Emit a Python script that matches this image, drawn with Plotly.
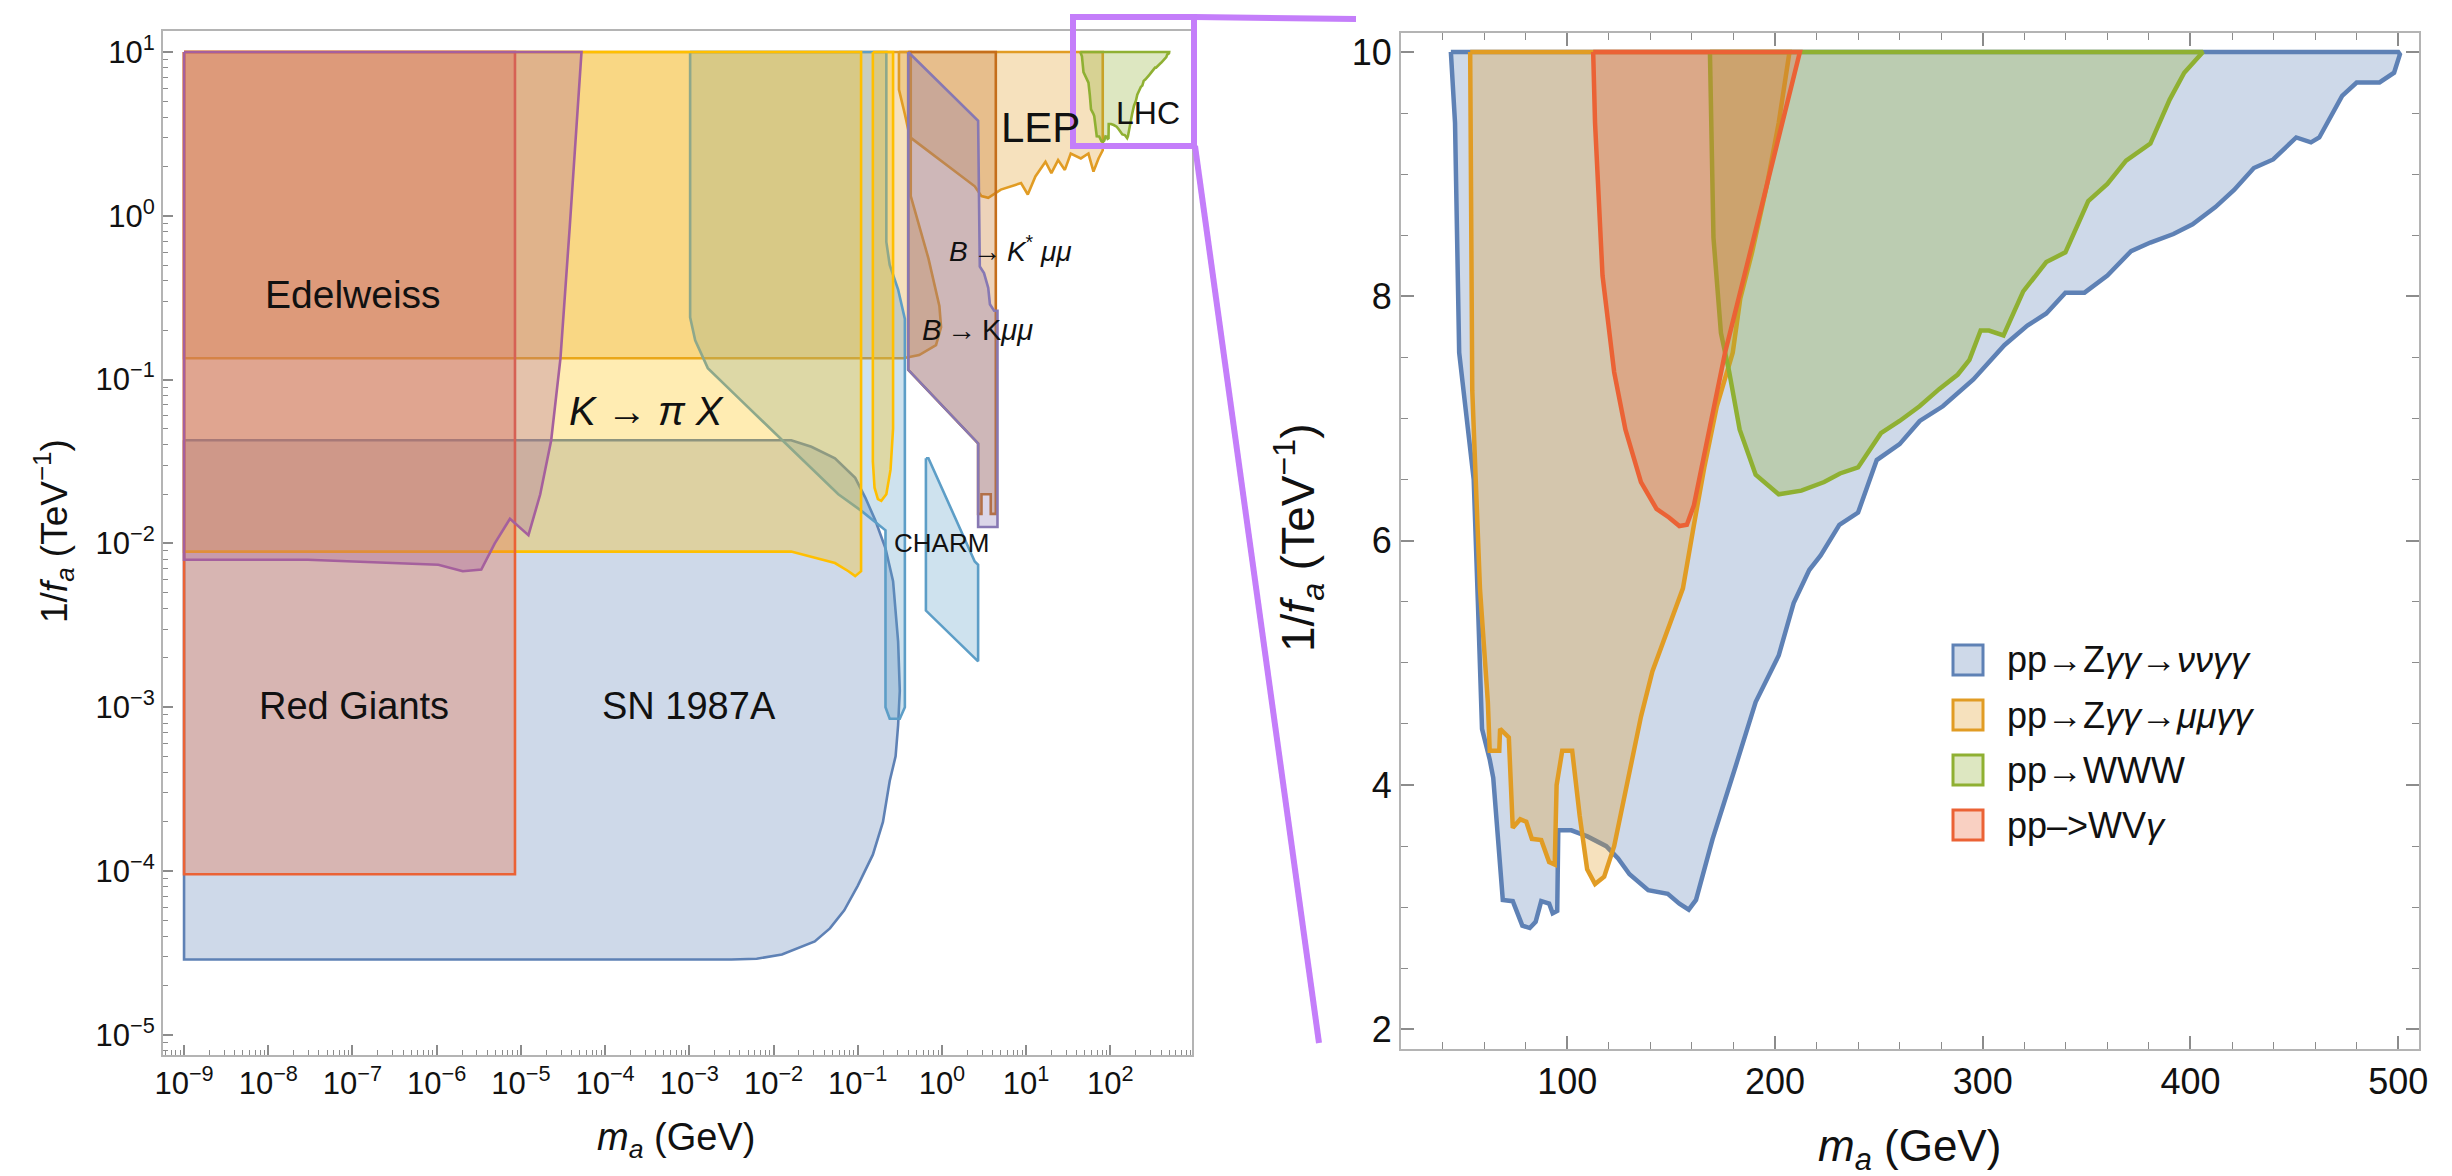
import plotly.graph_objects as go

# ================= LEFT PANEL DATA (log10 m_a [GeV], log10 1/f_a [TeV^-1]) =================
sn_logm = [-9.0, -1.79, -1.55, -1.27, -1.03, -0.91, -0.79, -0.67, -0.58, -0.52, -0.50, -0.52, -0.55, -0.62, -0.70,
           -0.82, -1.00, -1.16, -1.33, -1.51, -1.90, -2.20, -2.50, -9.0]
sn_logf = [-1.37, -1.37, -1.41, -1.48, -1.60, -1.72, -1.86, -2.03, -2.23, -2.60, -2.90, -3.11, -3.30, -3.45, -3.70,
           -3.90, -4.09, -4.24, -4.35, -4.43, -4.51, -4.535, -4.54, -4.54]

kpx_logm = [-9.0, -0.96, -0.96, -1.03, -1.11, -1.27, -1.79, -9.0]
kpx_logf = [1.0, 1.0, -2.17, -2.20, -2.17, -2.12, -2.05, -2.05]
kpx_spike_logm = [-0.82, -0.82, -0.80, -0.76, -0.72, -0.66, -0.61, -0.58, -0.58]
kpx_spike_logf = [1.0, -1.50, -1.66, -1.73, -1.74, -1.70, -1.55, -1.30, 1.0]

band_logm = [-9.0, -0.37, -0.37, -0.16, -0.03, -0.01, -0.07, -0.27, -0.46, -9.0]
band_logf = [1.0, 1.0, 0.12, -0.26, -0.55, -0.68, -0.79, -0.85, -0.87, -0.87]

beam_logm = [-2.99, -2.99, -2.93, -2.78, -2.42, -1.83, -1.23, -0.96, -0.67, -0.67, -0.62, -0.50, -0.44, -0.44, -0.52, -0.62, -0.66, -0.66]
beam_logf = [1.0, -0.62, -0.76, -0.93, -1.11, -1.40, -1.70, -1.80, -1.92, -3.00, -3.07, -3.07, -3.00, -0.63, -0.45, -0.30, -0.16, 1.0]

charm_logm = [-0.19, -0.16, 0.39, 0.43, 0.43, -0.19]
charm_logf = [-1.48, -1.48, -2.11, -2.13, -2.72, -2.41]

rg_logm = [-9.0, -5.07, -5.07, -9.0]
rg_logf = [1.0, 1.0, -4.02, -4.02]

edel_logm = [-9.0, -4.28, -4.42, -4.53, -4.64, -4.77, -4.91, -5.13, -5.31, -5.47, -5.69, -5.98, -7.53, -9.0]
edel_logf = [1.0, 1.0, -0.07, -0.87, -1.37, -1.70, -1.95, -1.85, -2.00, -2.16, -2.17, -2.13, -2.10, -2.10]

lep_logm = [-0.51, -0.51, -0.44, -0.38, 0.39, 0.47, 0.55, 0.70, 0.94, 1.02, 1.11, 1.23, 1.30, 1.38, 1.46, 1.53, 1.65, 1.74, 1.80, 1.86, 1.91, 1.91]
lep_logf = [1.0, 0.77, 0.62, 0.48, 0.18, 0.12, 0.11, 0.16, 0.20, 0.13, 0.24, 0.33, 0.26, 0.34, 0.28, 0.38, 0.35, 0.38, 0.27, 0.35, 0.40, 1.0]

bkmm_logm = [-0.40, 0.64, 0.64, 0.58, 0.58, 0.47, 0.47, 0.43, 0.43, -0.40]
bkmm_logf = [1.0, 1.0, -1.82, -1.82, -1.70, -1.70, -1.82, -1.82, -1.39, -0.94]

bkst_logm = [-0.40, 0.43, 0.45, 0.50, 0.55, 0.57, 0.62, 0.66, 0.66, 0.43, 0.43, -0.40]
bkst_logf = [1.0, 0.58, -0.31, -0.35, -0.44, -0.54, -0.58, -0.58, -1.90, -1.90, -1.39, -0.94]

x_tick_exps = [-9, -8, -7, -6, -5, -4, -3, -2, -1, 0, 1, 2]
y_tick_exps = [-5, -4, -3, -2, -1, 0, 1]

# ================= RIGHT PANEL DATA (m_a [GeV], 1/f_a [TeV^-1]) =================
zvv_m = [44, 46, 48, 52, 55, 57, 59, 62.7, 64.4, 69, 73.8, 78.4, 82, 84.8, 87.5, 91.3, 93, 95.2, 95.7, 98.6, 102,
         109.7, 118.8, 124.5, 130, 139, 148.4, 154, 158.5, 162, 170, 181, 190.7, 201.8, 209, 216.5, 222, 231, 240,
         249, 260, 269.7, 280.8, 295.5, 310.4, 321.5, 330.6, 339.8, 349, 360, 371.4, 380.7, 391.8, 401, 412, 421,
         430.5, 439.8, 450.9, 458, 462, 473, 480, 491, 498, 500.8, 500]
zvv_f = [10, 9.42, 7.54, 6.91, 6.5, 5.5, 4.46, 4.21, 4.06, 3.06, 3.05, 2.85, 2.83, 2.88, 3.05, 3.03, 2.95, 2.97, 3.63, 3.63, 3.63,
         3.58, 3.50, 3.40, 3.27, 3.14, 3.11, 3.03, 2.98, 3.06, 3.56, 4.15, 4.68, 5.06, 5.49, 5.76, 5.88, 6.13, 6.23,
         6.66, 6.79, 6.98, 7.10, 7.32, 7.60, 7.76, 7.86, 8.03, 8.03, 8.17, 8.37, 8.44, 8.51, 8.59, 8.73, 8.87,
         9.05, 9.12, 9.30, 9.26, 9.30, 9.64, 9.75, 9.75, 9.83, 9.98, 10]

zmm_m = [53.3, 54.3, 58, 61.8, 62.7, 67.3, 67.7, 71.9, 73.8, 77.4, 80.3, 83, 87.5, 91.3, 94, 94.9, 97.6, 102.4, 106,
         109.6, 113.4, 117.8, 122.6, 128, 135.5, 141, 150, 155.7, 161, 166, 172, 179.7, 183.3, 189, 196, 201.8, 207]
zmm_f = [10, 7.23, 5.61, 4.68, 4.28, 4.28, 4.46, 4.39, 3.65, 3.72, 3.70, 3.56, 3.55, 3.37, 3.35, 4.0, 4.28, 4.28, 3.75,
         3.31, 3.19, 3.25, 3.50, 3.94, 4.56, 4.93, 5.34, 5.61, 6.13, 6.6, 7.1, 7.54, 7.98, 8.36, 8.9, 9.42, 10]

www_m = [168.7, 170.4, 174, 178, 183, 190.7, 201.8, 212.7, 223.7, 231.3, 240, 251, 260, 269.6, 279, 288, 293.6, 299,
         303, 310, 319.5, 330.6, 339.8, 350.8, 360, 369, 380.7, 390, 397, 406]
www_f = [10, 8.48, 7.70, 7.38, 6.91, 6.54, 6.38, 6.41, 6.48, 6.55, 6.60, 6.88, 6.98, 7.10, 7.24, 7.36, 7.48, 7.72,
         7.72, 7.68, 8.04, 8.28, 8.36, 8.78, 8.92, 9.11, 9.25, 9.61, 9.83, 10]

wvg_m = [112.5, 113.4, 117, 122.6, 128, 135.5, 143, 149, 154, 157.6, 161, 166.8, 176, 190.7, 202, 212]
wvg_f = [10, 9.42, 8.17, 7.38, 6.91, 6.48, 6.26, 6.19, 6.12, 6.13, 6.29, 6.76, 7.54, 8.54, 9.33, 10]

legend_labels = ["pp→Z<i>γγ</i>→<i>νν</i><i>γγ</i>", "pp→Z<i>γγ</i>→<i>μμγγ</i>", "pp→WWW", "pp–&gt;WV<i>γ</i>"]

# ================= STYLE =================
BLUE, ORANGE, GREEN, RED = '#5E81B5', '#E19C24', '#8FB032', '#EB6235'
PURPLE, DORANGE, LBLUE, YELLOW, MAGENTA = '#8778B3', '#C56E1A', '#5D9EC7', '#FFBF00', '#A5609D'
ZOOMC = '#C47EFA'
W, H = 2452, 1176
FONT = 'Liberation Sans, Arial, Helvetica, sans-serif'


def rgba(hx, a):
    hx = hx.lstrip('#')
    return 'rgba(%d,%d,%d,%.3f)' % (int(hx[0:2], 16), int(hx[2:4], 16), int(hx[4:6], 16), a)


def px(x):
    return x / W


def py(y):
    return 1 - y / H


def closed(a):
    return list(a) + [a[0]]


def region(xs, ys, color, xa, ya, width, alpha=0.3, logdata=True):
    if logdata:
        xs = [10 ** v for v in xs]
        ys = [10 ** v for v in ys]
    return go.Scatter(x=closed(xs), y=closed(ys), mode='lines', fill='toself',
                      fillcolor=rgba(color, alpha), line=dict(color=color, width=width),
                      xaxis=xa, yaxis=ya, showlegend=False, hoverinfo='skip')


fig = go.Figure()

LW = 2.6
left_regions = [
    (sn_logm, sn_logf, BLUE),
    (band_logm, band_logf, ORANGE),
    (beam_logm, beam_logf, LBLUE),
    (kpx_logm, kpx_logf, YELLOW),
    (kpx_spike_logm, kpx_spike_logf, YELLOW),
    (charm_logm, charm_logf, LBLUE),
    (rg_logm, rg_logf, RED),
    (edel_logm, edel_logf, MAGENTA),
    (lep_logm, lep_logf, ORANGE),
    (bkmm_logm, bkmm_logf, DORANGE),
    (bkst_logm, bkst_logf, PURPLE),
]
for xs, ys, c in left_regions:
    fig.add_trace(region(xs, ys, c, 'x', 'y', LW))
# LHC region on the left = envelope of the collider searches
fig.add_trace(region(zvv_m, zvv_f, GREEN, 'x', 'y', LW, logdata=False))

RW = 4.5
for xs, ys, c in [(zvv_m, zvv_f, BLUE), (zmm_m, zmm_f, ORANGE), (www_m, www_f, GREEN), (wvg_m, wvg_f, RED)]:
    fig.add_trace(region(xs, ys, c, 'x2', 'y2', RW, logdata=False))


def sup(e):
    return '10<sup>%s%d</sup>' % ('−' if e < 0 else '', abs(e))


x_minor = [k * 10.0 ** e for e in range(-10, 3) for k in range(2, 10)]
y_minor = [k * 10.0 ** e for e in range(-6, 2) for k in range(2, 10)]

TICKC = '#8c8c8c'
FRAMEC = '#b4b4b4'
common = dict(showgrid=False, zeroline=False, showline=True, linecolor=FRAMEC, linewidth=2,
              ticks='inside', tickcolor=TICKC, tickwidth=1.5, automargin=False)

fig.update_layout(
    width=W, height=H, margin=dict(l=0, r=0, t=0, b=0),
    paper_bgcolor='white', plot_bgcolor='white', showlegend=False,
    font=dict(family=FONT, color='#111111'),
    xaxis=dict(type='log', domain=[px(155), px(1184)], range=[-9.25, 2.97], anchor='y',
               tickvals=[10.0 ** e for e in x_tick_exps], ticktext=[sup(e) for e in x_tick_exps],
               ticklen=10, mirror=True, tickfont=dict(size=31),
               minor=dict(tickvals=x_minor, ticks='inside', ticklen=5, tickcolor=TICKC, tickwidth=1.2, showgrid=False),
               **common),
    yaxis=dict(type='log', domain=[py(1047), py(23)], range=[-5.123, 1.128], anchor='x',
               tickvals=[10.0 ** e for e in y_tick_exps], ticktext=[sup(e) for e in y_tick_exps],
               ticklen=10, mirror=True, tickfont=dict(size=31),
               minor=dict(tickvals=y_minor, ticks='inside', ticklen=5, tickcolor=TICKC, tickwidth=1.2, showgrid=False),
               **common),
    xaxis2=dict(domain=[px(1393), px(2411)], range=[20, 510], anchor='y2',
                tickvals=[100, 200, 300, 400, 500], ticklen=13, mirror='ticks', tickfont=dict(size=36),
                minor=dict(tick0=0, dtick=20, ticks='inside', ticklen=7, tickcolor=TICKC, tickwidth=1.2, showgrid=False),
                **common),
    yaxis2=dict(domain=[py(1041), py(25)], range=[1.84, 10.155], anchor='x2',
                tickvals=[2, 4, 6, 8, 10], ticklen=13, mirror='ticks', tickfont=dict(size=36),
                minor=dict(tick0=0, dtick=0.5, ticks='inside', ticklen=7, tickcolor=TICKC, tickwidth=1.2, showgrid=False),
                **common),
)

ann = []


def lab(text, x, y, size, xref='x', yref='y', xanchor='center', yanchor='middle', **kw):
    d = dict(text=text, x=x, y=y, xref=xref, yref=yref, showarrow=False,
             xanchor=xanchor, yanchor=yanchor,
             font=dict(size=size, family=FONT, color='#111111'))
    d.update(kw)
    ann.append(d)


TS = '\u2009'
# region labels (left panel, log10 data coordinates)
lab('Edelweiss', -6.99, -0.48, 39)
lab('Red Giants', -6.98, -2.99, 38)
lab('SN 1987A', -3.0, -2.99, 38)
lab('<i>K</i> → <i>π X</i>', -3.51, -1.19, 40)
lab('LEP', 1.17, 0.54, 42)
lab('LHC', 2.45, 0.63, 32)
lab('<i>B</i>' + TS + '→' + TS + '<i>K</i><sup>*</sup> <i>μμ</i>', 0.81, -0.20, 28)
lab('<i>B</i>' + TS + '→' + TS + 'K<i>μμ</i>', 0.42, -0.70, 29)
lab('CHARM', 0.0, -2.0, 26)

# axis titles
lab('<i>m</i><sub><i>a</i></sub> (GeV)', px(668), py(1132), 38, xref='paper', yref='paper')
lab('1/<i>f</i><sub><i>a</i></sub> (TeV<sup>−1</sup>)', px(45), py(523), 37, xref='paper', yref='paper', textangle=-90)
lab('<i>m</i><sub><i>a</i></sub> (GeV)', px(1901), py(1141), 44, xref='paper', yref='paper')
lab('1/<i>f</i><sub><i>a</i></sub> (TeV<sup>−1</sup>)', px(1290), py(530), 46, xref='paper', yref='paper', textangle=-90)

shapes = []
# legend (right panel)
leg_colors = [BLUE, ORANGE, GREEN, RED]
for i, (t, c) in enumerate(zip(legend_labels, leg_colors)):
    yc = 652 + 55 * i
    shapes.append(dict(type='rect', xref='paper', yref='paper', x0=px(1945), x1=px(1975),
                       y0=py(yc + 15), y1=py(yc - 15), fillcolor=rgba(c, 0.3), line=dict(color=c, width=3)))
    lab(t, px(1997), py(yc), 36, xref='paper', yref='paper', xanchor='left')

# zoom indicator
shapes.append(dict(type='rect', xref='paper', yref='paper', x0=px(1065), x1=px(1186), y0=py(138), y1=py(9),
                   line=dict(color=ZOOMC, width=6)))
shapes.append(dict(type='line', xref='paper', yref='paper', x0=px(1186), y0=py(9), x1=px(1348), y1=py(11),
                   line=dict(color=ZOOMC, width=6)))
shapes.append(dict(type='line', xref='paper', yref='paper', x0=px(1187), y0=py(138), x1=px(1311), y1=py(1035),
                   line=dict(color=ZOOMC, width=6)))

fig.update_layout(annotations=ann, shapes=shapes)
fig.write_html('out.html')
